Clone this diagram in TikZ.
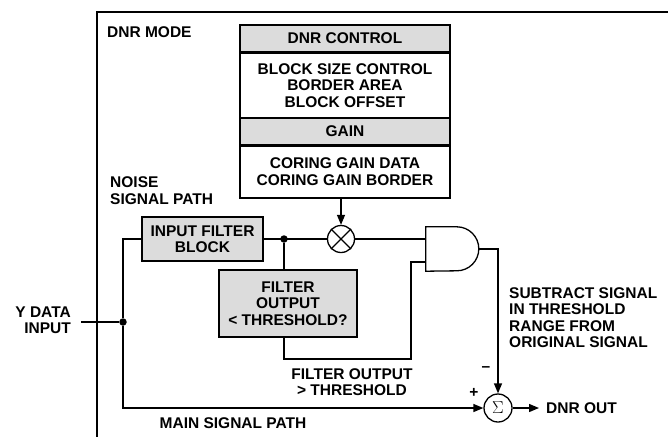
\documentclass[tikz,border=0pt]{standalone}
\usepackage{fontspec}
\setmainfont{Liberation Sans}[BoldFont={Liberation Sans Bold}]
\usepackage{tikz}
\usetikzlibrary{arrows.meta,positioning}
\definecolor{boxgray}{RGB}{220,220,220}

\begin{document}
\begin{tikzpicture}[x=1pt,y=-1pt,>={Triangle[length=10pt,width=8pt]},
 font=\fontsize{15.5}{16.5}\selectfont\bfseries,
 wire/.style={line width=1.3pt},
 blk/.style={draw,line width=1.3pt,fill=boxgray,inner sep=0pt,align=center},
 lbl/.style={inner sep=0pt,align=left},
 jdot/.style={circle,fill,inner sep=0pt,minimum size=7.5pt}]
 \useasboundingbox (0,0) rectangle (668,437);
 \draw[line width=1.9pt] (668,12) -- (97,12) -- (97,437);
 \node[lbl,anchor=west] (mode) at (107,32) {DNR MODE};
 % control stack
 \node[blk,minimum width=210pt,minimum height=27pt] (ctrlhead) at (345,38.5)
  {DNR CONTROL};
 \node[blk,fill=white,minimum width=210pt,minimum height=64pt,below=0pt of ctrlhead]
  (ctrlbody) {BLOCK SIZE CONTROL\\BORDER AREA\\BLOCK OFFSET};
 \node[blk,minimum width=210pt,minimum height=26pt,below=0pt of ctrlbody]
  (gainhead) {GAIN};
 \node[blk,fill=white,minimum width=210pt,minimum height=52pt,below=0pt of gainhead]
  (gainbody) {CORING GAIN DATA\\CORING GAIN BORDER};
 % noise path
 \node[lbl,anchor=west] (noise) at (110,190.5) {NOISE\\SIGNAL PATH};
 \node[blk,minimum width=121pt,minimum height=44pt] (filt) at (202.5,239)
  {INPUT FILTER\\BLOCK};
 \node[blk,minimum width=138pt,minimum height=67pt] (thr) at (288,303.5)
  {FILTER\\OUTPUT\\< THRESHOLD?};
 \node[draw,circle,line width=1.3pt,minimum size=27pt,inner sep=0pt] (mult) at (341,239) {};
 \draw[wire] (mult.45) -- (mult.225) (mult.135) -- (mult.315);
 \node[jdot] (fdot) at (284,239) {};
 \node[minimum width=53pt,minimum height=44pt,inner sep=0pt] (andg) at (452.5,249) {};
 \draw[wire] (andg.north west) -- ++(31,0)
  arc[start angle=-90,end angle=90,radius=22] -- (andg.south west) -- cycle;
 \coordinate (andin2) at (426,262);
 \coordinate (fbk) at (411,359);
 \node[lbl,align=center] (gtlbl) at (352,382) {FILTER OUTPUT\\> THRESHOLD};
 % main path
 \node[lbl,align=right,anchor=east] (ydata) at (71,320) {Y DATA\\INPUT};
 \coordinate (yin) at (81,322);
 \node[jdot] (ydot) at (123,322) {};
 \node[draw,circle,line width=1.3pt,minimum size=28pt,inner sep=0pt,
  font=\fontsize{19}{20}\selectfont] (sum) at (498,408) {$\Sigma$};
 \coordinate (dout) at (539,408);
 \node[lbl,anchor=west,right=7pt of dout] (outlbl) {DNR OUT};
 \node[lbl] (mainlbl) at (233,423) {MAIN SIGNAL PATH};
 \node[lbl,anchor=west] (sublbl) at (509,317.5)
  {SUBTRACT SIGNAL\\IN THRESHOLD\\RANGE FROM\\ORIGINAL SIGNAL};
 \node[lbl] (plus) at (474,393) {+};
 \node[lbl] (minus) at (486,369) {--};
 % wires
 \draw[wire,->] (gainbody.south -| mult) -- (mult);
 \draw[wire] (filt) -- (mult);
 \draw[wire] (mult) -- (andg.west |- mult);
 \draw[wire] (fdot) -- (thr.north -| fdot);
 \draw[wire] (thr.south -| fdot) |- (fbk) |- (andin2);
 \draw[wire,->] (andg.east) -| (sum.north);
 \draw[wire] (yin) -- (ydot);
 \draw[wire] (ydot) |- (filt.west);
 \draw[wire,->] (ydot) |- (sum.west);
 \draw[wire,->] (sum) -- (dout);
\end{tikzpicture}
\end{document}
